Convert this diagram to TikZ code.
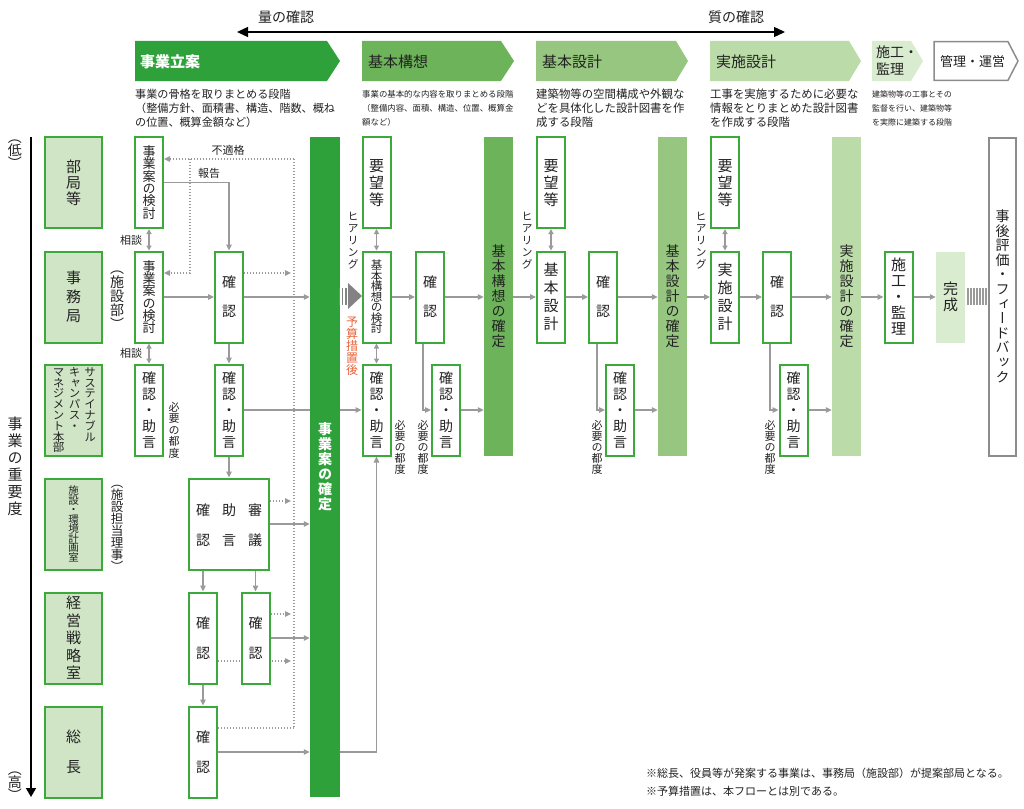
\documentclass[tikz,border=0pt]{standalone}
\usepackage{fontspec}
\setmainfont{Noto Sans CJK JP}
\newfontfamily\vfont[RawFeature=+vert]{Noto Sans CJK JP}
\usetikzlibrary{arrows.meta}
\pgfdeclarelayer{bg}
\pgfsetlayers{bg,main}
\definecolor{dg}{HTML}{2EA13B}
\definecolor{bgreen}{HTML}{3BAA3A}
\definecolor{gA}{HTML}{6CB35A}
\definecolor{gB}{HTML}{96C67F}
\definecolor{gC}{HTML}{BBDCA9}
\definecolor{gD}{HTML}{D9ECCF}
\definecolor{lbl}{HTML}{D0E5C6}
\definecolor{ag}{HTML}{9A9A9A}
\definecolor{tx}{HTML}{222222}
\definecolor{org}{HTML}{E8653C}
\definecolor{bx}{HTML}{8C8C8C}
\newcommand\fs[1]{\fontsize{#1}{#1}\selectfont}
\ExplSyntaxOn
\NewDocumentCommand\vtmap{m}{\tl_map_function:nN {#1} \vtchar}
\ExplSyntaxOff
\newcommand\vtchar[1]{\hbox to 1em{\hss\vrule width 0pt height .88em depth .12em\relax #1\hss}}
\newcommand\vt[2]{\vbox{\vfont\baselineskip=#1pt\relax\lineskiplimit=-\maxdimen\lineskip=0pt\relax\vtmap{#2}}}
\tikzset{
 gbox/.style={draw=bgreen, line width=2pt, fill=white, minimum width=28pt, minimum height=91pt, inner sep=0pt, text=tx},
 lbox/.style={draw=bgreen, line width=2pt, fill=lbl, minimum width=57pt, minimum height=91pt, inner sep=0pt, text=tx},
 phbar/.style={minimum width=29pt, minimum height=319pt, inner sep=0pt, text=tx},
 ar/.style={draw=ag, line width=1.2pt, -{Triangle[length=6pt,width=5.5pt]}},
 dar/.style={draw=ag, line width=1.2pt, {Triangle[length=5pt,width=5pt]}-{Triangle[length=5pt,width=5pt]}},
 dt/.style={draw=ag, line width=1.2pt, dash pattern=on 1.2pt off 1.8pt},
 dta/.style={dt, -{Triangle[length=6pt,width=5.5pt]}},
 lab/.style={inner sep=0pt, text=tx},
 desc/.style={lab, anchor=west},
}
\begin{document}
\begin{tikzpicture}[x=1pt,y=-1pt]
\useasboundingbox (0,0) rectangle (1024,808);
\begin{pgfonlayer}{bg}
\fill[white] (0,0) rectangle (1024,808);
\end{pgfonlayer}

% top arrow
\node[lab, font=\fs{14}] (qty) at (286,17) {量の確認};
\node[lab, font=\fs{14}] (qual) at (736,17) {質の確認};
\coordinate (tal) at (237,32);
\coordinate (tar) at (785,32);
\draw[line width=1.3pt, {Triangle[length=11pt,width=10pt]}-{Triangle[length=11pt,width=10pt]}] (tal) -- (tar);

% chevrons
\fill[dg] (135,41) -- (327,41) -- (340,61) -- (327,81) -- (135,81) -- cycle;
\node[desc, text=white, font=\fs{15}\bfseries] (h1) at (140,62) {事業立案};
\fill[gA] (362,41) -- (501,41) -- (514,61) -- (501,81) -- (362,81) -- cycle;
\node[desc, font=\fs{15}] (h2) at (368,62) {基本構想};
\fill[gB] (536,41) -- (676,41) -- (688,61) -- (676,81) -- (536,81) -- cycle;
\node[desc, font=\fs{15}] (h3) at (542,62) {基本設計};
\fill[gC] (710,41) -- (849,41) -- (861,61) -- (849,81) -- (710,81) -- cycle;
\node[desc, font=\fs{15}] (h4) at (716,62) {実施設計};
\fill[gD] (872,41) -- (911,41) -- (923,61) -- (911,81) -- (872,81) -- cycle;
\node[desc, font=\fs{14}] (h5a) at (876,52) {施工・};
\node[desc, font=\fs{14}] (h5b) at (876,69) {監理};
\draw[bx, fill=white, line width=1.5pt] (934,41.75) -- (1008,41.75) -- (1018,61) -- (1008,80.25) -- (934,80.25) -- cycle;
\node[desc, font=\fs{13}] (h6) at (940,62) {管理・運営};

% descriptions
\node[desc, font=\fs{11.1}] (d1a) at (135,94) {事業の骨格を取りまとめる段階};
\node[desc, font=\fs{11.1}] (d1b) at (135,108) {（整備方針、面積書、構造、階数、概ね};
\node[desc, font=\fs{11.1}] (d1c) at (135,122) {の位置、概算金額など）};
\node[desc, font=\fs{8.4}] (d2a) at (362,94) {事業の基本的な内容を取りまとめる段階};
\node[desc, font=\fs{8.4}] (d2b) at (362,108) {（整備内容、面積、構造、位置、概算金};
\node[desc, font=\fs{8.4}] (d2c) at (362,122) {額など）};
\node[desc, font=\fs{11.4}] (d3a) at (536,94) {建築物等の空間構成や外観な};
\node[desc, font=\fs{11.4}] (d3b) at (536,108) {どを具体化した設計図書を作};
\node[desc, font=\fs{11.4}] (d3c) at (536,122) {成する段階};
\node[desc, font=\fs{11.4}] (d4a) at (710,94) {工事を実施するために必要な};
\node[desc, font=\fs{11.4}] (d4b) at (710,108) {情報をとりまとめた設計図書};
\node[desc, font=\fs{11.4}] (d4c) at (710,122) {を作成する段階};
\node[desc, font=\fs{8}] (d5a) at (872,94) {建築物等の工事とその};
\node[desc, font=\fs{8}] (d5b) at (872,108) {監督を行い、建築物等};
\node[desc, font=\fs{8}] (d5c) at (872,122) {を実際に建築する段階};

% importance axis
\coordinate (axt) at (31,137);
\coordinate (axb) at (31,797);
\draw[line width=1.5pt, -{Triangle[length=9pt,width=10pt]}] (axt) -- (axb);
\node[lab, font=\fs{14}] (low) at (15,150) {\vt{13}{（低）}};
\node[lab, font=\fs{15}] (imp) at (15,466) {\vt{17}{事業の重要度}};
\node[lab, font=\fs{14}] (high) at (15,782) {\vt{13}{（高）}};

% organisation labels
\node[lbox, font=\fs{15}] (L1) at (73.5,182.5) {\vt{16}{部局等}};
\node[lbox, font=\fs{15}] (L2) at (73.5,297) {\vt{19}{事務局}};
\node[lbox] (L3) at (73.5,410) {};
\node[lab, font=\fs{11.5}, anchor=north] (L3a) at (90,366) {\vt{10.8}{サステイナブル}};
\node[lab, font=\fs{11.5}, anchor=north] (L3b) at (74.5,366) {\vt{10.8}{キャンパス・}};
\node[lab, font=\fs{11.5}, anchor=north] (L3c) at (58.5,366) {\vt{10.8}{マネジメント本部}};
\node[lbox, font=\fs{10.5}] (L4) at (73.5,524) {\vt{9.5}{施設・環境計画室}};
\node[lbox, font=\fs{15}] (L5) at (73.5,638) {\vt{17.5}{経営戦略室}};
\node[lbox, font=\fs{15}] (L6) at (73.5,752) {\vt{30}{総長}};
\node[lab, font=\fs{14}] (sb) at (117,296) {\vt{14}{（施設部）}};
\node[lab, font=\fs{12.5}] (sr) at (117,525) {\vt{12}{（施設担当理事）}};

% business planning boxes
\node[gbox, font=\fs{13}] (b1) at (149,182.5) {\vt{12.3}{事業案の検討}};
\node[gbox, font=\fs{13}] (b2) at (149,297) {\vt{12.3}{事業案の検討}};
\node[gbox, font=\fs{14}] (kj1) at (149,410) {\vt{16}{確認・助言}};
\node[gbox, font=\fs{14}] (k2) at (229,297) {\vt{29}{確認}};
\node[gbox, font=\fs{14}] (kj2) at (229,410) {\vt{16}{確認・助言}};
\node[gbox, minimum width=80pt] (wide) at (229,524) {};
\node[lab, font=\fs{14}] (w1) at (203,525) {\vt{30}{確認}};
\node[lab, font=\fs{14}] (w2) at (229,525) {\vt{30}{助言}};
\node[lab, font=\fs{14}] (w3) at (255,525) {\vt{30}{審議}};
\node[gbox, font=\fs{14}] (r5l) at (203,638) {\vt{30}{確認}};
\node[gbox, font=\fs{14}] (r5r) at (255.5,638) {\vt{30}{確認}};
\node[gbox, font=\fs{14}] (r6) at (203,752) {\vt{30}{確認}};

\node[lab, font=\fs{11}] (sd1) at (131,240) {相談};
\node[lab, font=\fs{11}] (sd2) at (131,353) {相談};
\node[lab, font=\fs{11}] (fk) at (228,150) {不適格};
\node[lab, font=\fs{11}] (hk) at (209,173) {報告};
\node[lab, font=\fs{11}] (n1) at (174,430) {\vt{11.5}{必要の都度}};

% main bar
\node[fill=dg, minimum width=30pt, minimum height=660pt, inner sep=0pt, text=white, font=\fs{14}\bfseries] (bar1) at (325,467) {\vt{15}{事業案の確定}};

% basic concept
\node[gbox, font=\fs{15}] (yA) at (376.5,182.5) {\vt{17}{要望等}};
\node[gbox, font=\fs{11.5}] (kA) at (376.5,297) {\vt{10.5}{基本構想の検討}};
\node[gbox, font=\fs{14}] (kjA) at (376.5,410) {\vt{16}{確認・助言}};
\node[gbox, font=\fs{14}] (kkA) at (430,297) {\vt{29}{確認}};
\node[gbox, font=\fs{14}] (kj2A) at (446,410) {\vt{16}{確認・助言}};
\node[phbar, fill=gA, font=\fs{14}] (barA) at (498.5,296.5) {\vt{15}{基本構想の確定}};
\node[lab, font=\fs{11}] (hA) at (353,240) {\vt{12}{ヒアリング}};
\node[lab, font=\fs{12}, text=org] (yb) at (352,346) {\vt{12}{予算措置後}};
\node[lab, font=\fs{11}] (n2) at (400,447) {\vt{11}{必要の都度}};
\node[lab, font=\fs{11}] (n3) at (423,447) {\vt{11}{必要の都度}};

% basic design
\node[gbox, font=\fs{15}] (yB) at (551,182.5) {\vt{17}{要望等}};
\node[gbox, font=\fs{15}] (sB) at (551,297) {\vt{18}{基本設計}};
\node[gbox, font=\fs{14}] (kkB) at (603,297) {\vt{29}{確認}};
\node[gbox, font=\fs{14}] (kj2B) at (620,410) {\vt{16}{確認・助言}};
\node[phbar, fill=gB, font=\fs{14}] (barB) at (672.5,296.5) {\vt{15}{基本設計の確定}};
\node[lab, font=\fs{11}] (hB) at (527,240) {\vt{12}{ヒアリング}};
\node[lab, font=\fs{11}] (n4) at (597,447) {\vt{11}{必要の都度}};

% detailed design
\node[gbox, font=\fs{15}] (yC) at (725,182.5) {\vt{17}{要望等}};
\node[gbox, font=\fs{15}] (sC) at (725,297) {\vt{18}{実施設計}};
\node[gbox, font=\fs{14}] (kkC) at (777,297) {\vt{29}{確認}};
\node[gbox, font=\fs{14}] (kj2C) at (793.5,410) {\vt{16}{確認・助言}};
\node[phbar, fill=gC, font=\fs{14}] (barC) at (846.5,296.5) {\vt{15}{実施設計の確定}};
\node[lab, font=\fs{11}] (hC) at (701,240) {\vt{12}{ヒアリング}};
\node[lab, font=\fs{11}] (n5) at (770,447) {\vt{11}{必要の都度}};

% construction
\node[gbox, font=\fs{15}] (sG) at (898.5,297) {\vt{16}{施工・監理}};
\node[fill=gD, minimum width=29pt, minimum height=91pt, inner sep=0pt, text=tx, font=\fs{15}] (done) at (950.5,297) {\vt{16}{完成}};
\node[draw=bx, line width=2pt, fill=white, minimum width=27pt, minimum height=318pt, inner sep=0pt, text=tx, font=\fs{14}] (fb) at (1002.5,296.5) {\vt{14.6}{事後評価・フィードバック}};

% fat arrow after budget
\fill[ag!85!black] (348,283) -- (362,296) -- (348,309) -- cycle;
\foreach \sx in {338.5,341.8,345.1} {\fill[ag!85!black] (\sx,288) rectangle ++(1.6,17);}
% stripes before feedback
\foreach \sx in {967,970,973,976,979,982,985} {\fill[ag] (\sx,288) rectangle ++(1.5,17);}

% footnotes
\node[desc, font=\fs{11}] (f1) at (646,773) {※総長、役員等が発案する事業は、事務局（施設部）が提案部局となる。};
\node[desc, font=\fs{11}] (f2) at (646,791) {※予算措置は、本フローとは別である。};

% connectors
\coordinate (dTR) at (294,159);
\coordinate (dBR) at (294,728);
\coordinate (dTL) at (190,159);
\coordinate (y273) at (0,273);
\coordinate (y501) at (0,501);
\coordinate (y614) at (0,614);
\coordinate (y661) at (0,661);
\coordinate (y728) at (0,728);
\begin{pgfonlayer}{bg}
\draw[dt] (dTR) -- (dBR);
\draw[dta] (dTR) -- (dTR -| b1.east);
\draw[dta] (dTL) |- (b2.east |- y273);
\draw[dta, shorten >=3pt] (k2.east |- y273) -- (dTR |- y273);
\draw[dta, shorten >=3pt] (wide.east |- y501) -- (dTR |- y501);
\draw[dta, shorten >=3pt] (r5r.east |- y614) -- (dTR |- y614);
\draw[dta, shorten >=3pt] (r5l.east |- y661) -- (dTR |- y661);
\draw[dt] (r6.east |- y728) -- (dBR);

\draw[ar] (b1.east) -| (k2.north);
\draw[ar] (b2.east) -- (k2.west);
\draw[ar] (k2.east) -- (k2.east -| bar1.west);
\draw[ar] (k2.south) -- (kj2.north);
\draw[ar] (kj2.east) -- (kjA.west);
\draw[ar] (kj2.south) -- (wide.north);
\draw[ar] (wide.east) -- (wide.east -| bar1.west);
\draw[ar] (r5l.north |- wide.south) -- (r5l.north);
\draw[ar] (r5r.north |- wide.south) -- (r5r.north);
\draw[ar] (r5r.east) -- (r5r.east -| bar1.west);
\draw[ar] (r5l.south) -- (r6.north);
\draw[ar] (r6.east) -- (r6.east -| bar1.west);
\draw[ar] (bar1.east |- r6.east) -| (kjA.south);

\draw[dar] (b1.south) -- (b2.north);
\draw[dar] (b2.south) -- (kj1.north);
\draw[dar] (yA.south) -- (kA.north);
\draw[dar] (kA.south) -- (kjA.north);
\draw[dar] (yB.south) -- (sB.north);
\draw[dar] (yC.south) -- (sC.north);

\draw[ar] (kA.east) -- (kkA.west);
\draw[ar] (kkA.east) -- (kkA.east -| barA.west);
\draw[ar] ([xshift=-7pt]kkA.south) |- (kj2A.west);
\draw[ar] (kj2A.east) -- (kj2A.east -| barA.west);
\draw[ar] (barA.east |- sB.west) -- (sB.west);
\draw[ar] (sB.east) -- (kkB.west);
\draw[ar] (kkB.east) -- (kkB.east -| barB.west);
\draw[ar] ([xshift=-6pt]kkB.south) |- (kj2B.west);
\draw[ar] (kj2B.east) -- (kj2B.east -| barB.west);
\draw[ar] (barB.east |- sC.west) -- (sC.west);
\draw[ar] (sC.east) -- (kkC.west);
\draw[ar] (kkC.east) -- (kkC.east -| barC.west);
\draw[ar] ([xshift=-7pt]kkC.south) |- (kj2C.west);
\draw[ar] (kj2C.east) -- (kj2C.east -| barC.west);
\draw[ar] (barC.east |- sG.west) -- (sG.west);
\draw[ar] (sG.east) -- (done.west);
\end{pgfonlayer}
\end{tikzpicture}
\end{document}
